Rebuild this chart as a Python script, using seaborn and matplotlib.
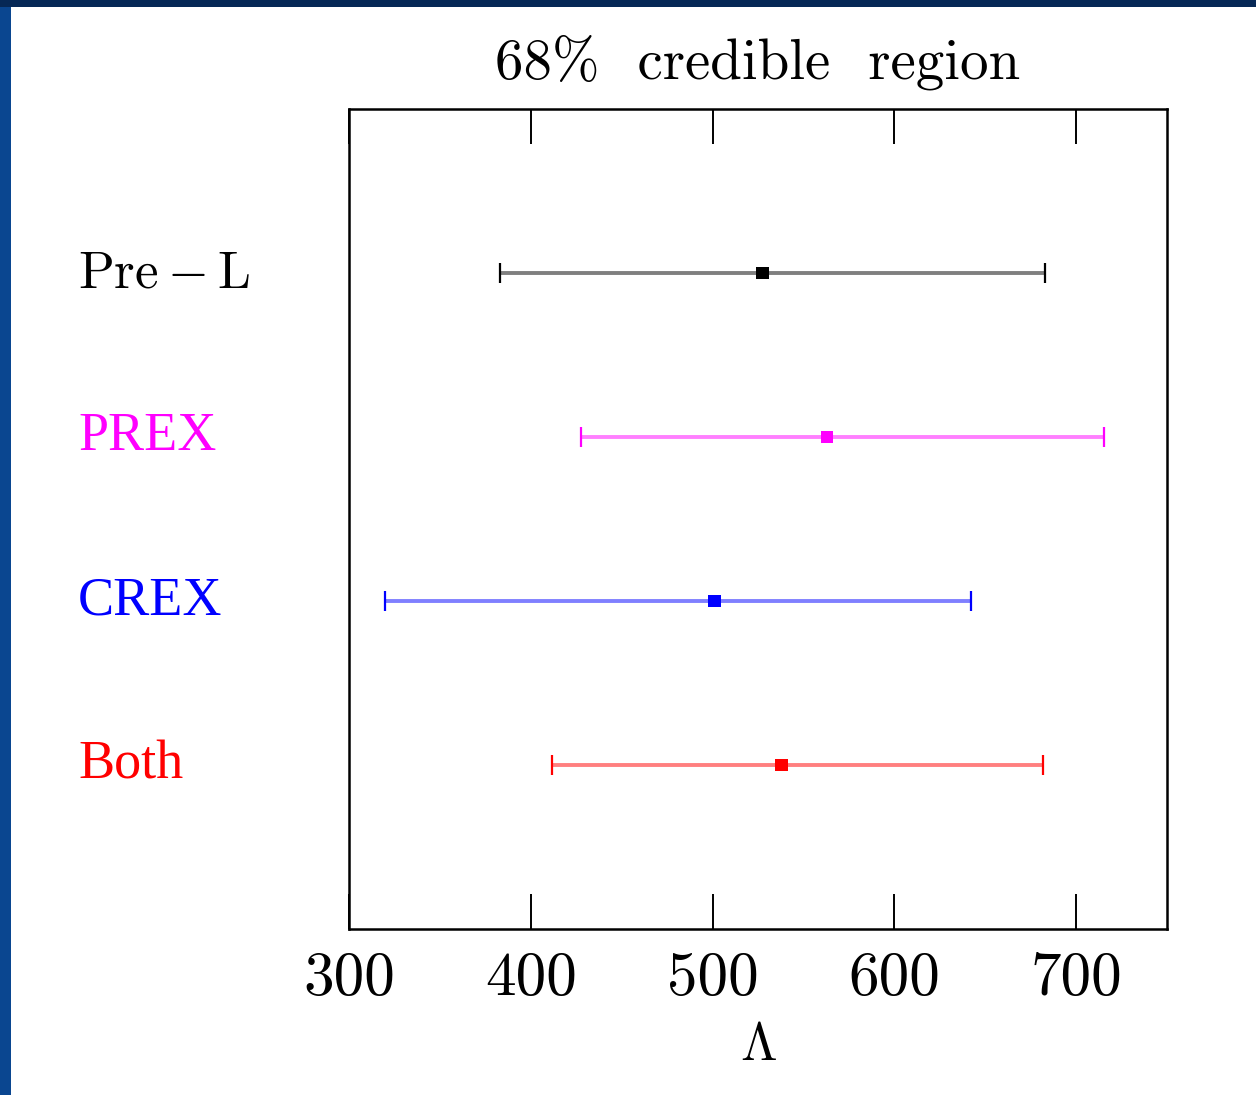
import numpy as np
import pandas as pd
import matplotlib
matplotlib.use("Agg")
import matplotlib.pyplot as plt
import matplotlib.transforms as mtransforms
from matplotlib.patches import Rectangle
import seaborn as sns

# Posterior summaries for the tidal deformability
labels = ["Pre-L", "PREX", "CREX", "Both"]
centers = [527.5, 563.0, 501.0, 538.0]
lower = [383.0, 427.5, 320.0, 411.5]
upper = [683.0, 715.5, 642.0, 682.0]
colors = ["#000000", "#ff00ff", "#0000ff", "#ff0000"]
rows = [4, 3, 2, 1]
xticks = [300, 400, 500, 600, 700]

df = pd.DataFrame({"label": labels, "center": centers, "lo": lower,
                   "hi": upper, "row": rows})

sns.set_theme(style="white")
plt.rcParams["mathtext.fontset"] = "cm"
plt.rcParams["axes.formatter.use_mathtext"] = True
plt.rcParams["text.color"] = "black"
plt.rcParams["axes.labelcolor"] = "black"
plt.rcParams["xtick.color"] = "black"

W, H = 1256, 1095
fig = plt.figure(figsize=(W / 100, H / 100), dpi=100)
fig.patch.set_facecolor("#0a4690")
# darker strip along the top, white panel
fig.patches.append(Rectangle((0, 1 - 7 / H), 1, 7 / H, transform=fig.transFigure,
                             facecolor="#062856", edgecolor="none", zorder=-10))
fig.patches.append(Rectangle((11 / W, 0), 1 - 11 / W, 1 - 7 / H, transform=fig.transFigure,
                             facecolor="white", edgecolor="none", zorder=-10))

ax = fig.add_axes([349 / W, 166 / H, 818 / W, 820 / H])
ax.set_zorder(5)
ax.set_facecolor("white")

for i, r in df.iterrows():
    c = colors[i]
    err = [[r.center - r.lo], [r.hi - r.center]]
    eb = ax.errorbar(r.center, r.row, xerr=err, fmt="none", ecolor=c, elinewidth=2.8,
                     capsize=7.5, capthick=1.6, alpha=0.5, zorder=2)
    for cl in eb[1]:
        cl.set_alpha(1.0)

sns.scatterplot(data=df, x="center", y="row", hue="label", palette=colors,
                marker="s", s=85, linewidth=0, legend=False, ax=ax, zorder=3)

ax.set_xlim(300, 750)
ax.set_ylim(0, 5)
ax.set_xticks(xticks)
ax.set_xticklabels([str(t) for t in xticks], fontfamily="cmr10", fontsize=44,
                   color="black")
ax.set_yticks([])
ax.tick_params(axis="x", which="major", direction="in", length=25, width=1.4,
               top=True, bottom=True, pad=16, color="black")
for s in ax.spines.values():
    s.set_visible(True)
    s.set_color("black")
    s.set_linewidth(1.8)

ax.set_xlabel(r"$\Lambda$", fontsize=38, labelpad=9, color="black")
ax.set_ylabel("")
ax.set_title("68%  credible  region", fontfamily="cmr10", fontsize=41, pad=22,
             color="black")

trans = mtransforms.blended_transform_factory(fig.transFigure, ax.transData)
for i, (lab, row) in enumerate(zip(labels, rows)):
    if i == 0:
        ax.text(78 / W, row, r"$\mathrm{Pre-L}$", transform=trans, color=colors[i],
                fontsize=38, va="center", ha="left")
    else:
        ax.text(78 / W, row, lab, transform=trans, color=colors[i],
                fontfamily="Liberation Serif", fontsize=39, va="center", ha="left")

fig.savefig("out.png", dpi=100, facecolor=fig.get_facecolor())
